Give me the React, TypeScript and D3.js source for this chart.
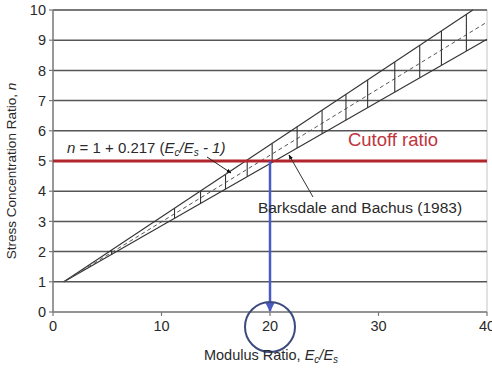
import React from "react";
import * as d3 from "d3";

const xTicks = [0, 10, 20, 30, 40];
const yTicks = [0, 1, 2, 3, 4, 5, 6, 7, 8, 9, 10];
const upperLine: [number, number][] = [[1, 1], [38.7, 10]];
const meanLine: [number, number][] = [[1, 1], [40, 9.6]];
const lowerLine: [number, number][] = [[1, 1], [40, 9.03]];
const bandTickX = [5.4, 11.2, 13.6, 15.9, 17.9, 20.2, 22.5, 24.8, 27.0, 29.0, 31.5, 33.8, 35.8, 38.1];
const cutoffRatio = 5;
const targetModulus = 20;

const W = 492, H = 370;
const L = 53, R = 487, T = 10, B = 312;

function lineAt(pts: [number, number][], x: number) {
  const [[x0, y0], [x1, y1]] = pts;
  return y0 + ((y1 - y0) * (x - x0)) / (x1 - x0);
}

export default function App() {
  const x = d3.scaleLinear().domain([0, 40]).range([L, R]);
  const y = d3.scaleLinear().domain([0, 10]).range([B, T]);
  const line = d3.line<[number, number]>().x(d => x(d[0])).y(d => y(d[1]));
  const font = "'Liberation Sans', Arial, sans-serif";
  const grid = "#555";
  const band = "#333";
  const red = "#b1262c";
  const blue = "#4a5cc4";
  const txt = "#2a2a2a";

  return (
    <svg width={W} height={H} style={{ position: "absolute", left: 0, top: 0, background: "#fff" }} fontFamily={font}>
      <defs>
        <marker id="ahBlue" viewBox="0 0 10 10" refX="9" refY="5" markerWidth="4" markerHeight="4" orient="auto">
          <path d="M0,0 L10,5 L0,10 z" fill={blue} />
        </marker>
        <marker id="ahBlack" viewBox="0 0 10 10" refX="9" refY="5" markerWidth="5" markerHeight="5" orient="auto">
          <path d="M0,1 L10,5 L0,9 z" fill="#111" />
        </marker>
      </defs>
      <rect x={L} y={T} width={R - L} height={B - T} fill="none" stroke="#c4c4c4" strokeWidth={1} />
      {yTicks.filter(v => v > 0).map(v => (
        <line key={"g" + v} x1={L} x2={R} y1={y(v)} y2={y(v)} stroke={grid} strokeWidth={1.5} />
      ))}
      <line x1={L} x2={L} y1={T} y2={B} stroke="#7a7a7a" strokeWidth={1.4} />
      <line x1={L} x2={R} y1={B} y2={B} stroke="#7a7a7a" strokeWidth={1.4} />
      {yTicks.map(v => (
        <g key={"yt" + v}>
          <line x1={L - 4} x2={L} y1={y(v)} y2={y(v)} stroke="#7a7a7a" strokeWidth={1.2} />
          <text x={L - 7} y={y(v)} dy="0.36em" textAnchor="end" fontSize={14.5} fill={txt}>{v}</text>
        </g>
      ))}
      {xTicks.map(v => (
        <g key={"xt" + v}>
          <line x1={x(v)} x2={x(v)} y1={B} y2={B + 4} stroke="#7a7a7a" strokeWidth={1.2} />
          <text x={x(v)} y={B + 14} dy="0.36em" textAnchor="middle" fontSize={14.5} fill={txt}>{v}</text>
        </g>
      ))}
      <path d={line(upperLine) || ""} fill="none" stroke={band} strokeWidth={1.1} />
      <path d={line(lowerLine) || ""} fill="none" stroke={band} strokeWidth={1.1} />
      <path d={line(meanLine) || ""} fill="none" stroke="#555" strokeWidth={1} strokeDasharray="4,3" />
      {bandTickX.map(v => (
        <line key={"bt" + v} x1={x(v)} x2={x(v)} y1={y(lineAt(upperLine, v))} y2={y(lineAt(lowerLine, v))} stroke={band} strokeWidth={1.1} />
      ))}
      <line x1={L} x2={R} y1={y(cutoffRatio)} y2={y(cutoffRatio)} stroke={red} strokeWidth={3} />
      <text x={393} y={146} textAnchor="middle" fontSize={18.5} fill="#c0343c">Cutoff ratio</text>
      <line x1={x(targetModulus)} x2={x(targetModulus)} y1={y(cutoffRatio)} y2={B - 1} stroke={blue} strokeWidth={2.5} markerEnd="url(#ahBlue)" />
      <circle cx={x(targetModulus)} cy={327} r={25} fill="none" stroke="#3d4a7c" strokeWidth={2} />
      <text x={67} y={153} fontSize={15} fill={txt}>
        <tspan fontStyle="italic">n</tspan>
        <tspan> = 1 + 0.217 (</tspan>
        <tspan fontStyle="italic">E</tspan>
        <tspan fontStyle="italic" fontSize={10} dy={3}>c</tspan>
        <tspan fontStyle="italic" dy={-3}>/E</tspan>
        <tspan fontStyle="italic" fontSize={10} dy={3}>s</tspan>
        <tspan fontStyle="italic" dy={-3}> - 1)</tspan>
      </text>
      <line x1={207} y1={157} x2={231} y2={173} stroke="#222" strokeWidth={1} markerEnd="url(#ahBlack)" />
      <line x1={313} y1={197} x2={289} y2={155} stroke="#333" strokeWidth={1} markerEnd="url(#ahBlack)" />
      <text x={360} y={213} textAnchor="middle" fontSize={15.5} fill={txt}>Barksdale and Bachus (1983)</text>
      <text transform={`translate(16,${(T + B) / 2 + 10}) rotate(-90)`} textAnchor="middle" fontSize={13.5} fill={txt}>
        Stress Concentration Ratio, <tspan fontStyle="italic">n</tspan>
      </text>
      <text x={271} y={360} textAnchor="middle" fontSize={14.5} fill={txt}>
        Modulus Ratio, <tspan fontStyle="italic">E</tspan>
        <tspan fontStyle="italic" fontSize={10} dy={3}>c</tspan>
        <tspan fontStyle="italic" dy={-3}>/E</tspan>
        <tspan fontStyle="italic" fontSize={10} dy={3}>s</tspan>
      </text>
    </svg>
  );
}
